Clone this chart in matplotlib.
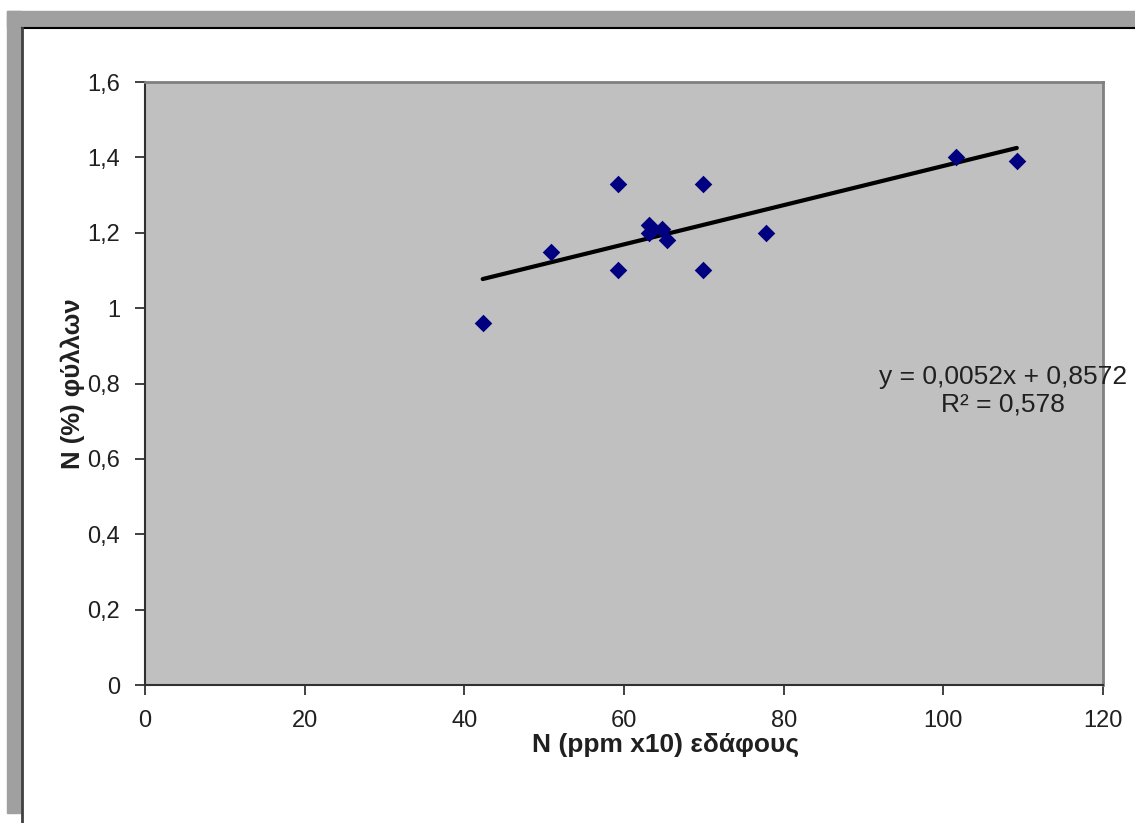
import numpy as np
import matplotlib
matplotlib.use('Agg')
import matplotlib.pyplot as plt
from matplotlib.patches import Rectangle
from matplotlib.lines import Line2D

plt.rcParams['font.family'] = ['Liberation Sans', 'DejaVu Sans']

# values
soil_n = [42.3, 50.8, 59.2, 59.2, 63.1, 63.1, 64.8, 65.4, 69.9, 69.9, 77.8, 101.6, 109.2]
leaf_n = [0.96, 1.15, 1.33, 1.10, 1.22, 1.20, 1.21, 1.18, 1.33, 1.10, 1.20, 1.40, 1.39]

slope = 0.0052
intercept = 0.8572
r_squared = 0.578

x_ticks = [0, 20, 40, 60, 80, 100, 120]
y_ticks = [0, 0.2, 0.4, 0.6, 0.8, 1.0, 1.2, 1.4, 1.6]
y_tick_labels = ['0', '0,2', '0,4', '0,6', '0,8', '1', '1,2', '1,4', '1,6']

x_label = 'N (ppm x10) εδάφους'
y_label = 'N (%) φύλλων'


def fmt_num(v, digits):
    return f'{v:.{digits}f}'.replace('.', ',')


W, H = 1135, 823
fig = plt.figure(figsize=(W / 100, H / 100), dpi=100)
fig.patch.set_facecolor('white')

# screenshot frame: grey band on top and left plus a dark edge line
frame_grey = '#a0a0a0'
fig.patches.append(Rectangle((7 / W, 1 - 27 / H), 1 - 7 / W, 16 / H,
                             transform=fig.transFigure, color=frame_grey, zorder=0))
fig.patches.append(Rectangle((7 / W, 1 - 813 / H), 14 / W, (813 - 11) / H,
                             transform=fig.transFigure, color=frame_grey, zorder=0))
fig.lines.append(Line2D([22 / W, 1], [1 - 27.5 / H, 1 - 27.5 / H],
                        transform=fig.transFigure, color='black', lw=1.5))
fig.lines.append(Line2D([22 / W, 22 / W], [0, 1 - 27.5 / H],
                        transform=fig.transFigure, color='#404040', lw=2))

ax = fig.add_axes([145 / W, 1 - 685 / H, (1103 - 145) / W, (685 - 82) / H])
ax.set_facecolor('#c0c0c0')

ax.scatter(soil_n, leaf_n, marker='D', s=80, color='#000080', zorder=3, linewidths=0)

xfit = np.array([min(soil_n), max(soil_n)])
ax.plot(xfit, slope * xfit + intercept, color='black', lw=3, solid_capstyle='round', zorder=2)

eq_text = f'y = {fmt_num(slope, 4)}x + {fmt_num(intercept, 4)}\nR² = {fmt_num(r_squared, 3)}'
ax.text(0.8956, 0.488, eq_text, transform=ax.transAxes, ha='center', va='center',
        fontsize=19, color='#202020', linespacing=1.2, zorder=4)

ax.set_xlim(0, 120)
ax.set_ylim(0, 1.6)
ax.set_xticks(x_ticks)
ax.set_yticks(y_ticks)
ax.set_yticklabels(y_tick_labels)
ax.tick_params(axis='both', direction='out', length=7, width=1.2, pad=11,
               labelsize=17, colors='#202020')

for side in ['left', 'bottom']:
    ax.spines[side].set_color('#303030')
    ax.spines[side].set_linewidth(1.5)
for side in ['top', 'right']:
    ax.spines[side].set_color('#808080')
    ax.spines[side].set_linewidth(2)

ax.set_xlabel(x_label, fontsize=19, fontweight='bold', color='#202020')
ax.xaxis.set_label_coords(0.543, -0.080)
ax.set_ylabel(y_label, fontsize=18.5, fontweight='bold', color='#202020', va='center')
ax.yaxis.set_label_coords(-0.075, 0.499)

fig.savefig('out.png', dpi=100)
